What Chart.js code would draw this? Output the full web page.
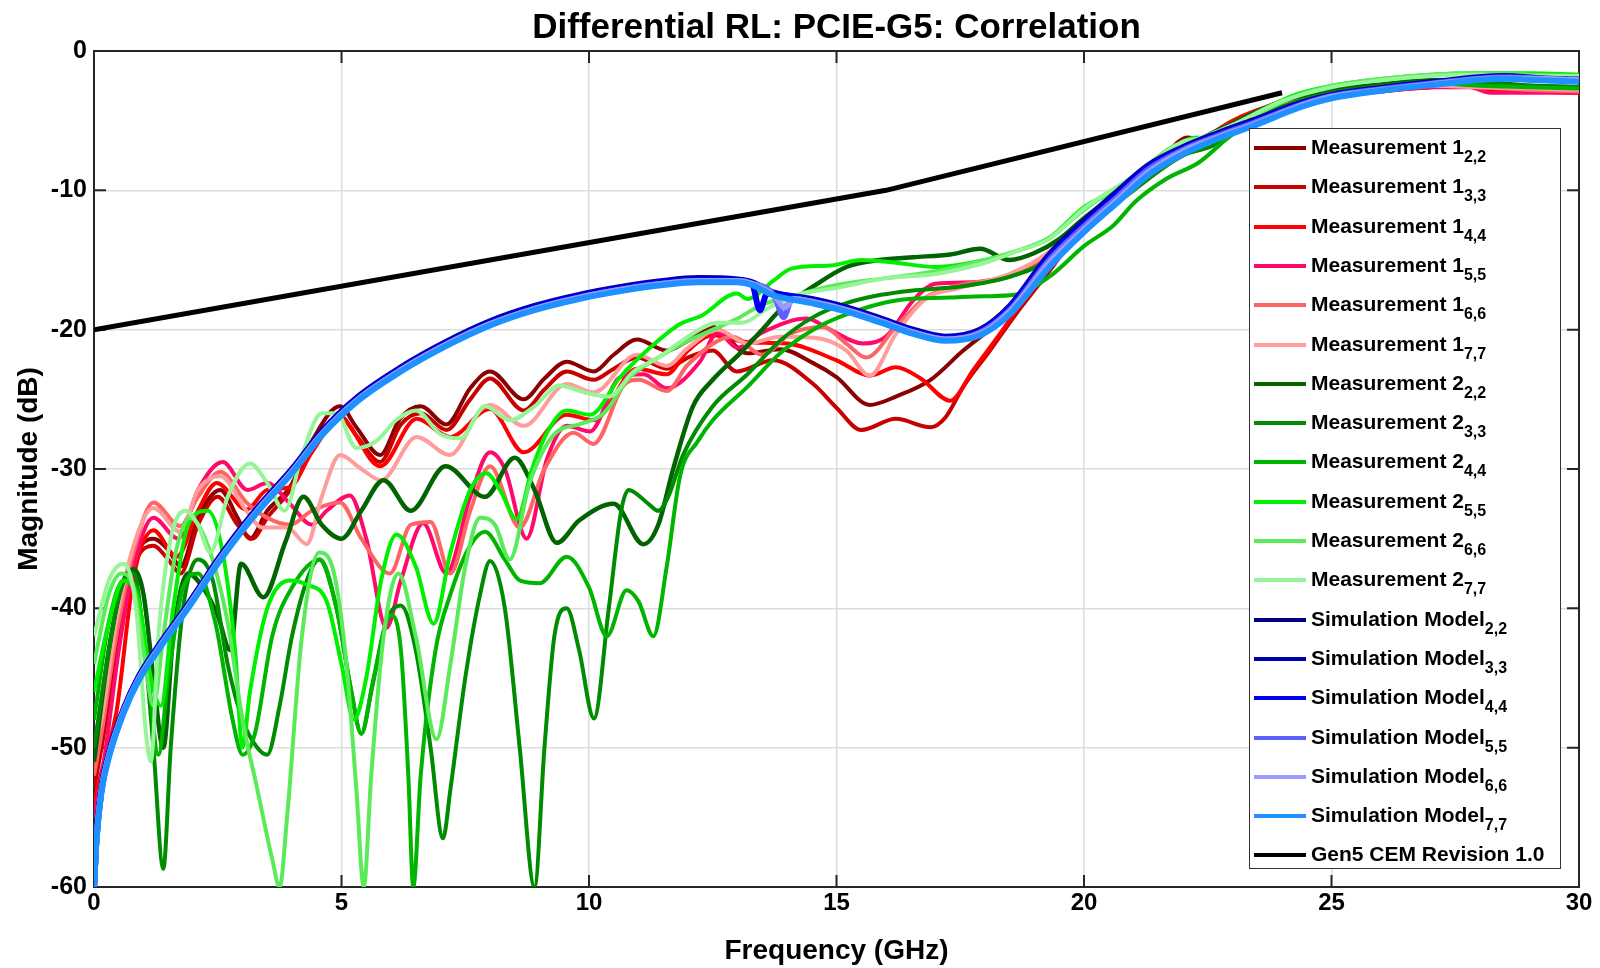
<!DOCTYPE html>
<html>
<head>
<meta charset="utf-8">
<script src="https://cdn.jsdelivr.net/npm/chart.js@4.4.1/dist/chart.umd.min.js"></script>
<style>
  body { margin: 0; background: #fff; }
  #wrap { position: relative; width: 1600px; height: 968px; font-family: "Liberation Sans", Arial, sans-serif; }
  #chart { position: absolute; left: 0; top: 0; }
  #title { position: absolute; left: 94px; width: 1485px; top: 8px; text-align: center;
           font-weight: bold; font-size: 35px; line-height: 35px; color: #000; }
  #legend { position: absolute; left: 1249px; top: 128px; width: 310px; height: 739px;
            border: 1.5px solid #333; background: #fff; }
  .row { position: absolute; left: 0; height: 40px; line-height: 40px; font-weight: bold;
         font-size: 21px; white-space: nowrap; color: #000; }
  .swatch { position: absolute; left: 4px; top: 19px; width: 52px; height: 4px; }
  .txt { position: absolute; left: 61px; top: 0; }
  .txt sub { font-size: 16px; vertical-align: baseline; position: relative; top: 8px; }
</style>
</head>
<body>
<div id="wrap">
  <canvas id="chart" width="1600" height="968"></canvas>
  <div id="title">Differential RL: PCIE-G5: Correlation</div>
  <div id="legend"></div>
</div>
<script>
// axis ticks
const xTicks = [0, 5, 10, 15, 20, 25, 30];
const yTicks = [-60, -50, -40, -30, -20, -10, 0];

// legend names, subscripts and colours (same order as the series)
const seriesNames = ['Measurement 1', 'Measurement 1', 'Measurement 1', 'Measurement 1', 'Measurement 1', 'Measurement 1',
  'Measurement 2', 'Measurement 2', 'Measurement 2', 'Measurement 2', 'Measurement 2', 'Measurement 2',
  'Simulation Model', 'Simulation Model', 'Simulation Model', 'Simulation Model', 'Simulation Model', 'Simulation Model',
  'Gen5 CEM Revision 1.0'];
const seriesSubs = ['2,2', '3,3', '4,4', '5,5', '6,6', '7,7', '2,2', '3,3', '4,4', '5,5', '6,6', '7,7',
  '2,2', '3,3', '4,4', '5,5', '6,6', '7,7', ''];
const seriesColors = ['#8b0000', '#c80000', '#ff0000', '#ff0a6a', '#ff6464', '#ff9c9c',
  '#006400', '#008c00', '#00b400', '#00f000', '#5aeb5a', '#96f596',
  '#000080', '#0000a8', '#0000ee', '#6060ff', '#9a9aff', '#1e90ff', '#000000'];

// [frequency GHz, magnitude dB]
const m1_22 = [[0,-52],[0.2,-48],[0.5,-41],[0.8,-36.5],[1.2,-35],[1.5,-35.8],[1.75,-37],[2.1,-33.5],[2.55,-31.5],[2.9,-33.5],[3.15,-35],[3.5,-33],[3.96,-31.3],[4.4,-28],[4.97,-25.5],[5.3,-27],[5.78,-29],[6.18,-26.4],[6.6,-25.5],[7.12,-26.8],[7.6,-24.2],[8.0,-23],[8.68,-25],[9.1,-23.5],[9.55,-22.3],[10.09,-23],[10.5,-21.8],[10.97,-20.7],[11.57,-21.5],[12.0,-20.8],[12.5,-19.8],[13.2,-21.7],[13.86,-21.4],[14.53,-22.4],[15.0,-23.4],[15.67,-25.4],[16.2,-24.8],[16.9,-23.6],[17.56,-21.5],[18.1,-20],[18.6,-18.7],[19.3,-15.5],[20,-12.3],[21,-9.5],[21.5,-8],[22.1,-6.2],[22.5,-6.5],[23.3,-5.0],[24.3,-3.6],[25,-3.2],[26,-2.8],[27,-2.5],[27.8,-2.4],[28.2,-2.8],[29,-2.8],[30,-2.9]];
const m1_33 = [[0,-53],[0.2,-49],[0.5,-42],[0.8,-37],[1.2,-35.5],[1.5,-36.5],[1.75,-37.5],[2.1,-34],[2.5,-32],[2.9,-34],[3.2,-35],[3.5,-33.5],[3.96,-31.5],[4.4,-28.5],[4.97,-26.2],[5.3,-27.6],[5.78,-29.5],[6.2,-26.8],[6.6,-26],[7.12,-27.2],[7.6,-25],[8.0,-23.5],[8.68,-25.8],[9.1,-24.3],[9.55,-23],[10.09,-23.6],[10.5,-22.8],[10.97,-22],[11.57,-22.8],[12.0,-22],[12.5,-21.5],[12.98,-23],[13.72,-22.2],[14.53,-23.9],[15.0,-25.6],[15.5,-27.2],[16.2,-26.4],[16.9,-27],[17.2,-26.3],[17.56,-24.1],[18.1,-21.5],[18.6,-19],[19.3,-15.8],[20,-12.5],[21,-9.6],[22,-7],[23,-5.3],[24,-3.9],[25,-3.3],[26,-2.9],[27,-2.6],[27.8,-2.5],[28.2,-2.9],[29,-2.9],[30,-3.0]];
const m1_44 = [[0,-54],[0.2,-51],[0.45,-47.5],[0.8,-37.8],[1.2,-34.4],[1.67,-36.3],[2.1,-33],[2.48,-31],[3.08,-32.9],[3.5,-31.5],[3.96,-31.3],[4.4,-28.8],[4.97,-26.4],[5.78,-29.8],[6.52,-26.4],[7.19,-27.7],[8.0,-25.7],[8.68,-28.8],[9.55,-26.1],[10.09,-26.5],[10.97,-22.8],[11.57,-23.2],[12.0,-21.5],[12.5,-20.4],[13.2,-20.9],[14.0,-21],[15.0,-22.2],[15.67,-23.3],[16.2,-22.7],[16.7,-23.5],[17.3,-25.1],[17.76,-22.9],[18.3,-20.3],[19,-16.8],[20,-12.6],[21,-9.2],[21.6,-7.8],[22.2,-6.8],[23,-5.0],[24,-3.7],[25,-3.1],[26,-2.8],[27,-2.6],[27.8,-2.5],[28.2,-2.9],[29,-2.9],[30,-3.0]];
const m1_55 = [[0,-55],[0.2,-51],[0.5,-43],[0.8,-37],[1.2,-33.5],[1.7,-35],[2.1,-31.5],[2.6,-29.5],[3.1,-31.5],[3.5,-31],[3.96,-32.5],[4.4,-34],[4.7,-33],[5.17,-31.9],[5.5,-35],[5.91,-41.4],[6.2,-38],[6.65,-33.9],[7.12,-37.5],[7.6,-32],[8.0,-28.8],[8.3,-30],[8.74,-35],[9.15,-29.3],[9.55,-26.9],[10.02,-27.3],[10.63,-23.4],[11.1,-23.2],[11.57,-24.2],[12.24,-22.3],[12.6,-20.2],[13.0,-21.3],[13.5,-20.2],[14.4,-19.2],[14.87,-20],[15.54,-21],[16.0,-20.5],[16.55,-17.9],[17.0,-16.7],[17.76,-16.6],[18.5,-16.2],[19.3,-14.8],[20,-12.5],[21,-9.5],[22,-7.5],[23,-5.5],[24,-4],[25,-3.3],[26,-2.9],[27,-2.6],[27.8,-2.6],[28.2,-3.0],[29,-3.0],[30,-3.0]];
const m1_66 = [[0,-52],[0.15,-49],[0.45,-42],[0.8,-36],[1.2,-32.4],[1.74,-34.1],[2.1,-32],[2.55,-30.2],[3.08,-32.4],[3.5,-33.5],[3.96,-34],[4.4,-33],[4.97,-32.4],[5.4,-35],[5.98,-37.5],[6.4,-34],[6.8,-33.8],[7.2,-37.5],[7.6,-33],[8.0,-29.8],[8.6,-34.2],[9.1,-30],[9.69,-27.4],[10.09,-28.2],[10.7,-24],[11.0,-23.6],[11.57,-24.4],[12.0,-22.5],[12.9,-20.5],[13.5,-21.8],[14.06,-20.3],[14.73,-19.8],[15.2,-21],[15.6,-22],[16.2,-19.8],[16.8,-17.7],[17.5,-16.8],[18.5,-16.1],[19.3,-14.5],[20,-12.2],[21,-9.3],[22,-7.2],[23,-5.3],[24,-3.8],[25,-3.1],[26,-2.8],[27,-2.5],[28,-2.6],[29,-2.8],[30,-2.9]];
const m1_77 = [[0,-50],[0.15,-48],[0.45,-41],[0.8,-35.5],[1.2,-32.8],[1.74,-34.5],[2.1,-31.5],[2.55,-30.5],[3.08,-33],[3.4,-34.2],[3.9,-34.2],[4.3,-35.4],[4.6,-32],[4.97,-29],[5.4,-30],[5.8,-30.8],[6.52,-27.7],[7.19,-29],[7.8,-25.8],[8.0,-25.4],[8.68,-26.9],[9.55,-23.9],[10.09,-24.5],[10.97,-21.8],[11.57,-22.6],[12.0,-21.3],[12.6,-20],[13.2,-21],[13.86,-20.5],[14.6,-20.6],[15.2,-21.5],[15.67,-23.3],[16.2,-20.3],[16.8,-17.8],[17.5,-17],[18.5,-16],[19.3,-14.4],[20,-12],[21,-9.3],[22,-7],[23,-5.2],[24,-3.8],[25,-3.1],[26,-2.7],[27,-2.5],[28,-2.6],[29,-2.7],[30,-2.8]];

const m2_22 = [[0,-51],[0.3,-43],[0.55,-38.5],[0.8,-37.2],[1.0,-39],[1.2,-45],[1.4,-50],[1.6,-42],[1.9,-37.5],[2.2,-38.5],[2.5,-40.5],[2.75,-43],[2.97,-36.8],[3.42,-39.2],[3.87,-35.2],[4.23,-32],[4.6,-34],[5.0,-35],[5.4,-33],[5.85,-30.8],[6.4,-33],[7.1,-29.8],[7.9,-32],[8.5,-29.2],[8.9,-31.5],[9.35,-35.3],[9.8,-33.7],[10.5,-32.5],[11.1,-35.4],[11.4,-34],[11.7,-30],[12.1,-25.5],[12.5,-23.6],[13.05,-21.7],[13.5,-20],[13.86,-18.6],[14.53,-16.9],[15.2,-15.5],[15.87,-15],[16.55,-14.8],[17.3,-14.6],[17.9,-14.2],[18.5,-15],[19,-14.5],[19.5,-13.5],[20,-12],[21,-9.5],[22,-7],[23,-5.2],[24,-3.6],[25,-2.8],[26,-2.4],[27,-2.1],[28,-2.2],[29,-2.5],[30,-2.6]];
const m2_33 = [[0,-50],[0.3,-43],[0.55,-38.5],[0.8,-37.5],[1.0,-42],[1.2,-50],[1.4,-58.7],[1.55,-50],[1.8,-40],[2.1,-36.5],[2.4,-38],[2.7,-44],[3.0,-48],[3.3,-50],[3.5,-50.5],[3.75,-47],[4.0,-42],[4.3,-38],[4.55,-36.5],[4.9,-40],[5.2,-46],[5.4,-49],[5.6,-46],[5.9,-41],[6.2,-39.8],[6.5,-43],[6.8,-50],[7.05,-56.5],[7.2,-53],[7.5,-45],[7.8,-39],[8.0,-36.6],[8.3,-40],[8.6,-50],[8.9,-60],[9.1,-50],[9.3,-42],[9.55,-40],[9.8,-43],[10.1,-47.9],[10.4,-40],[10.65,-33],[10.8,-31.5],[11.2,-32.5],[11.4,-33],[11.6,-32],[11.9,-29],[12.5,-25.5],[13.2,-23.2],[13.86,-20.8],[14.53,-19.1],[15.2,-18.1],[15.9,-17.5],[16.5,-17.2],[17.5,-16.9],[18.5,-16.2],[19.3,-15],[20,-12.8],[21,-10],[22,-7.5],[22.6,-6.8],[23,-5.8],[24,-4],[25,-3],[26,-2.5],[27,-2.2],[28,-2.3],[29,-2.5],[30,-2.6]];
const m2_44 = [[0,-48],[0.3,-41],[0.6,-38],[0.85,-38.5],[1.1,-45],[1.3,-50.5],[1.5,-45],[1.8,-38.5],[2.1,-37.5],[2.45,-41],[2.8,-48],[3.0,-50.5],[3.25,-49],[3.6,-42],[4.0,-38.5],[4.57,-36.5],[4.9,-40],[5.2,-46],[5.4,-49],[5.65,-45],[6.0,-40.5],[6.2,-43],[6.35,-52],[6.45,-60],[6.6,-52],[6.9,-43],[7.2,-39],[7.6,-35.5],[7.9,-34.5],[8.3,-36.5],[8.6,-38],[9.0,-38.2],[9.55,-36.3],[10.0,-38.5],[10.36,-42],[10.76,-38.7],[11.0,-39.5],[11.3,-42],[11.57,-37],[11.84,-30.5],[12.2,-28],[12.5,-26.5],[13.2,-24.1],[13.86,-21.7],[14.53,-20],[15.2,-18.9],[16.2,-17.9],[17.3,-17.7],[18.0,-17.6],[18.6,-17.5],[19.3,-16.2],[20,-14],[20.6,-12.5],[21.04,-10.8],[21.65,-9.2],[22.32,-8],[23,-6],[24,-4.2],[25,-3.2],[26,-2.7],[27,-2.3],[28,-2.5],[29,-2.6],[30,-2.7]];
const m2_55 = [[0,-46],[0.3,-41],[0.6,-38],[0.9,-39.5],[1.15,-45],[1.35,-47],[1.6,-40],[1.9,-34],[2.3,-33],[2.6,-36],[2.85,-43],[3.0,-50],[3.15,-46],[3.5,-40],[3.96,-38],[4.3,-38.3],[4.7,-39.5],[5.0,-44],[5.25,-48],[5.5,-45],[5.8,-38],[6.11,-34.7],[6.5,-37],[6.86,-41.1],[7.2,-36],[7.6,-31.5],[7.93,-30.3],[8.2,-31.5],[8.54,-33.6],[8.85,-30],[9.15,-27.4],[9.55,-25.8],[10.02,-26.1],[10.63,-23.4],[11.17,-21.5],[11.84,-19.6],[12.27,-19],[12.99,-17.4],[13.2,-17.8],[13.72,-16.5],[14.1,-15.6],[14.87,-15.4],[15.5,-15],[16.2,-15.2],[17,-15.5],[18,-15],[18.6,-14.4],[19.3,-13.4],[20,-11.2],[20.64,-10],[21.3,-8.4],[22,-6.5],[22.3,-6.2],[22.45,-6.6],[23.3,-4.8],[24.3,-3.1],[25,-2.5],[26,-2],[27,-1.7],[28,-1.6],[29,-1.6],[30,-1.7]];
const m2_66 = [[0,-44],[0.3,-39],[0.55,-37.5],[0.8,-38.5],[1.0,-43],[1.2,-47],[1.4,-42],[1.65,-36],[1.95,-33.5],[2.3,-35.5],[2.7,-41],[3.0,-48],[3.3,-53],[3.6,-58],[3.75,-60],[3.9,-55],[4.2,-42],[4.55,-36],[4.85,-37.5],[5.1,-44],[5.3,-53],[5.45,-60],[5.6,-52],[5.85,-42],[6.15,-37.5],[6.5,-42],[6.92,-49.4],[7.2,-44],[7.5,-37],[7.8,-33.5],[8.1,-34],[8.4,-36.5],[8.8,-31],[9.3,-27.5],[9.8,-26.8],[10.3,-26],[10.8,-23.5],[11.4,-22],[12,-20.8],[12.5,-20],[13,-19.2],[13.5,-18.2],[14.2,-17.5],[15,-16.8],[16,-16.3],[17,-15.8],[18,-15],[18.6,-14.4],[19.3,-13.4],[20,-11.4],[21,-9],[22,-6.6],[22.4,-6.5],[23.3,-4.9],[24.3,-3.2],[25,-2.5],[26,-2],[27,-1.7],[28,-1.6],[29,-1.7],[30,-1.8]];
const m2_77 = [[0,-42],[0.3,-38],[0.6,-36.8],[0.85,-40],[1.05,-49],[1.15,-51],[1.3,-42],[1.55,-35],[1.85,-33],[2.1,-34],[2.35,-36],[2.7,-32],[3.15,-29.6],[3.5,-31],[3.85,-33],[4.2,-29],[4.6,-26],[4.9,-26],[5.3,-28.5],[5.7,-28],[6.1,-26.5],[6.5,-25.8],[7.0,-27.5],[7.4,-27.8],[7.9,-25.5],[8.4,-26.5],[8.9,-25.5],[9.4,-24],[9.9,-24.5],[10.4,-24.8],[10.9,-23],[11.4,-22],[12,-20.5],[12.6,-19.5],[13.1,-19.5],[13.6,-18.5],[14.2,-17.5],[15,-17],[16,-16.3],[17,-16],[18,-15.2],[18.7,-14.3],[19.3,-13.5],[20,-11.3],[21,-9],[22,-6.5],[22.3,-6.3],[23,-5.3],[24,-3.6],[25,-2.6],[26,-2.1],[27,-1.8],[28,-1.7],[29,-1.8],[30,-1.8]];

const sim_22 = [[0,-60],[0.05,-56.5],[0.15,-53],[0.3,-50.5],[0.6,-47.3],[0.9,-45],[1.3,-42.8],[1.9,-39.8],[2.6,-36.1],[3.3,-32.9],[4.0,-30.1],[4.6,-27.4],[5.3,-25],[6.2,-22.8],[7.1,-21],[8.0,-19.5],[8.9,-18.4],[9.8,-17.6],[10.7,-17],[11.5,-16.6],[12.2,-16.4],[13.0,-16.45],[13.3,-16.7],[13.7,-17.4],[14.5,-17.9],[15.2,-18.5],[15.9,-19.3],[16.55,-20.1],[17.2,-20.6],[17.9,-20.1],[18.5,-18.4],[19.3,-14.7],[20,-12.3],[20.7,-10.1],[21.3,-8.3],[22,-7.0],[22.7,-6.0],[23.4,-5.1],[24.4,-3.75],[25,-3.2],[26,-2.7],[27,-2.3],[28.5,-1.85],[29.2,-2.0],[30,-2.1]];
const sim_33 = [[0,-60],[0.05,-56.4],[0.15,-52.9],[0.3,-50.4],[0.6,-47.2],[0.9,-44.9],[1.3,-42.7],[1.9,-39.7],[2.6,-36.0],[3.3,-32.8],[4.0,-30.0],[4.6,-27.3],[5.3,-24.9],[6.2,-22.7],[7.1,-20.9],[8.0,-19.4],[8.9,-18.3],[9.8,-17.5],[10.7,-16.9],[11.5,-16.5],[12.2,-16.3],[13.0,-16.4],[13.3,-16.6],[13.7,-17.3],[14.5,-17.8],[15.2,-18.4],[15.9,-19.2],[16.55,-20.0],[17.2,-20.5],[17.9,-20.0],[18.5,-18.3],[19.3,-14.6],[20,-12.2],[20.7,-10.0],[21.3,-8.2],[22,-6.9],[22.7,-5.9],[23.4,-5.0],[24.4,-3.7],[25,-3.15],[26,-2.65],[27,-2.25],[28.5,-1.8],[29.2,-1.95],[30,-2.05]];
const sim_44 = [[0,-60],[0.05,-56.5],[0.15,-53],[0.3,-50.5],[0.6,-47.3],[0.9,-45],[1.3,-42.8],[1.9,-39.8],[2.6,-36.1],[3.3,-32.9],[4.0,-30.1],[4.6,-27.4],[5.3,-25],[6.2,-22.8],[7.1,-21],[8.0,-19.5],[8.9,-18.4],[9.8,-17.6],[10.7,-17],[11.5,-16.6],[12.2,-16.4],[13.0,-16.45],[13.3,-16.8],[13.45,-18.6],[13.6,-17.4],[14.5,-17.9],[15.2,-18.5],[15.9,-19.3],[16.55,-20.1],[17.2,-20.6],[17.9,-20.1],[18.5,-18.4],[19.3,-14.8],[20,-12.4],[20.7,-10.2],[21.3,-8.3],[22,-7.0],[22.7,-6.0],[23.4,-5.1],[24.4,-3.75],[25,-3.2],[26,-2.7],[27,-2.3],[28.5,-1.85],[29.2,-2.0],[30,-2.1]];
const sim_55 = [[0,-60],[0.05,-56.6],[0.15,-53.1],[0.3,-50.6],[0.6,-47.4],[0.9,-45.1],[1.3,-42.9],[1.9,-39.9],[2.6,-36.2],[3.3,-33],[4.0,-30.2],[4.6,-27.5],[5.3,-25.1],[6.2,-22.9],[7.1,-21.1],[8.0,-19.6],[8.9,-18.5],[9.8,-17.7],[10.7,-17.1],[11.5,-16.7],[12.2,-16.5],[13.0,-16.5],[13.3,-16.7],[13.75,-17.6],[13.93,-19.1],[14.1,-17.8],[14.5,-18],[15.2,-18.6],[15.9,-19.4],[16.55,-20.2],[17.2,-20.7],[17.9,-20.2],[18.5,-18.6],[19.3,-15],[20,-12.6],[20.7,-10.4],[21.3,-8.5],[22,-7.1],[22.7,-6.1],[23.4,-5.2],[24.4,-3.85],[25,-3.25],[26,-2.75],[27,-2.35],[28.5,-1.9],[28.6,-1.9],[29.2,-2.0],[30,-2.1]];
const sim_66 = [[0,-60],[0.05,-56.6],[0.15,-53.1],[0.3,-50.6],[0.6,-47.4],[0.9,-45.1],[1.3,-42.9],[1.9,-39.9],[2.6,-36.2],[3.3,-33],[4.0,-30.2],[4.6,-27.5],[5.3,-25.1],[6.2,-22.9],[7.1,-21.1],[8.0,-19.6],[8.9,-18.5],[9.8,-17.7],[10.7,-17.1],[11.5,-16.7],[12.2,-16.5],[13.0,-16.5],[13.3,-16.7],[13.75,-17.6],[13.95,-18.4],[14.15,-17.8],[14.5,-18],[15.2,-18.6],[15.9,-19.4],[16.55,-20.2],[17.2,-20.7],[17.9,-20.3],[18.5,-18.7],[19.3,-15.2],[20,-12.8],[20.7,-10.6],[21.3,-8.7],[22,-7.2],[22.7,-6.2],[23.4,-5.3],[24.4,-3.9],[25,-3.3],[26,-2.8],[27,-2.4],[28.5,-1.95],[29.2,-2.0],[30,-2.1]];
const sim_77 = [[0,-60],[0.05,-56.7],[0.15,-53.2],[0.3,-50.7],[0.6,-47.5],[0.9,-45.2],[1.3,-43],[1.9,-40],[2.6,-36.3],[3.3,-33.1],[4.0,-30.3],[4.6,-27.6],[5.3,-25.2],[6.2,-23],[7.1,-21.2],[8.0,-19.7],[8.9,-18.6],[9.8,-17.8],[10.7,-17.2],[11.5,-16.8],[12.2,-16.6],[13.0,-16.6],[13.3,-16.8],[13.7,-17.5],[14.5,-18.1],[15.2,-18.7],[15.9,-19.5],[16.55,-20.3],[17.2,-20.8],[17.9,-20.4],[18.5,-18.9],[19.3,-15.5],[20,-13],[20.7,-10.8],[21.3,-8.9],[22,-7.4],[22.7,-6.3],[23.4,-5.4],[24.4,-4],[25,-3.4],[26,-2.85],[27,-2.45],[28.5,-2.0],[29.2,-2.1],[30,-2.2]];

const gen5Limit = [[0,-20],[16,-10],[24,-3]];

const seriesData = [m1_22, m1_33, m1_44, m1_55, m1_66, m1_77,
  m2_22, m2_33, m2_44, m2_55, m2_66, m2_77,
  sim_22, sim_33, sim_44, sim_55, sim_66, sim_77, gen5Limit];

const fontFamily = '"Liberation Sans", Arial, sans-serif';

// build chart datasets; later series go on top like the original
function buildDatasets() {
  const n = seriesData.length;
  return seriesData.map((pts, i) => {
    const isSim = i >= 12 && i < 18;
    const isLimit = i === 18;
    return {
      label: seriesNames[i] + seriesSubs[i],
      data: pts.map(p => ({ x: p[0], y: p[1] })),
      borderColor: seriesColors[i],
      backgroundColor: seriesColors[i],
      borderWidth: isLimit ? 5 : (isSim ? 6 : (i === 6 ? 4.5 : 4)),
      pointRadius: 0,
      fill: false,
      tension: isLimit ? 0 : 0.4,
      cubicInterpolationMode: isLimit ? 'default' : 'monotone',
      order: n - i
    };
  });
}

// html legend with subscripts
function buildLegend() {
  const legend = document.getElementById('legend');
  seriesNames.forEach((name, i) => {
    const row = document.createElement('div');
    row.className = 'row';
    row.style.top = (-2 + i * 39.3) + 'px';
    row.innerHTML = `
      <span class="swatch" style="background:${seriesColors[i]}"></span>
      <span class="txt">${name}${seriesSubs[i] ? '<sub>' + seriesSubs[i] + '</sub>' : ''}</span>
    `;
    legend.appendChild(row);
  });
}

// white background behind the canvas
const whiteBg = {
  id: 'whiteBg',
  beforeDraw(chart) {
    const c = chart.ctx;
    c.save();
    c.fillStyle = '#fff';
    c.fillRect(0, 0, chart.width, chart.height);
    c.restore();
  }
};

// box round the plot with inward tick marks
const frame = {
  id: 'frame',
  beforeDatasetsDraw(chart) {
    const c = chart.ctx;
    const a = chart.chartArea;
    const xs = chart.scales.x, ys = chart.scales.y;
    c.save();
    c.strokeStyle = '#262626';
    c.lineWidth = 2;
    c.strokeRect(a.left, a.top, a.right - a.left, a.bottom - a.top);
    c.beginPath();
    xTicks.forEach(v => {
      const px = xs.getPixelForValue(v);
      c.moveTo(px, a.bottom); c.lineTo(px, a.bottom - 12);
      c.moveTo(px, a.top); c.lineTo(px, a.top + 12);
    });
    yTicks.forEach(v => {
      const py = ys.getPixelForValue(v);
      c.moveTo(a.left, py); c.lineTo(a.left + 12, py);
      c.moveTo(a.right, py); c.lineTo(a.right - 12, py);
    });
    c.stroke();
    c.restore();
  }
};

function drawChart() {
  const ctx = document.getElementById('chart').getContext('2d');
  new Chart(ctx, {
    type: 'line',
    data: { datasets: buildDatasets() },
    options: {
      responsive: false,
      animation: false,
      devicePixelRatio: 1,
      layout: { padding: { top: 51, right: 21, left: 0, bottom: 0 } },
      plugins: {
        legend: { display: false },
        title: { display: false },
        tooltip: { enabled: false }
      },
      scales: {
        x: {
          type: 'linear', min: 0, max: 30,
          afterBuildTicks: s => { s.ticks = xTicks.map(v => ({ value: v })); },
          afterFit: s => { s.height = 81; },
          grid: { color: '#dcdcdc', lineWidth: 1.5, drawTicks: false },
          border: { display: false },
          ticks: { padding: 2, color: '#000', font: { family: fontFamily, size: 24, weight: 'bold' } },
          title: { display: true, text: 'Frequency (GHz)', padding: 0, color: '#000',
                   font: { family: fontFamily, size: 28, weight: 'bold' } }
        },
        y: {
          type: 'linear', min: -60, max: 0,
          afterBuildTicks: s => { s.ticks = yTicks.map(v => ({ value: v })); },
          afterFit: s => { s.width = 94; },
          grid: { color: '#dcdcdc', lineWidth: 1.5, drawTicks: false },
          border: { display: false },
          ticks: { padding: 7, color: '#000', font: { family: fontFamily, size: 25, weight: 'bold' } },
          title: { display: true, text: 'Magnitude (dB)', padding: { top: 12, bottom: 0 }, color: '#000',
                   font: { family: fontFamily, size: 28, weight: 'bold' } }
        }
      }
    },
    plugins: [whiteBg, frame]
  });
}

buildLegend();
drawChart();
</script>
</body>
</html>
